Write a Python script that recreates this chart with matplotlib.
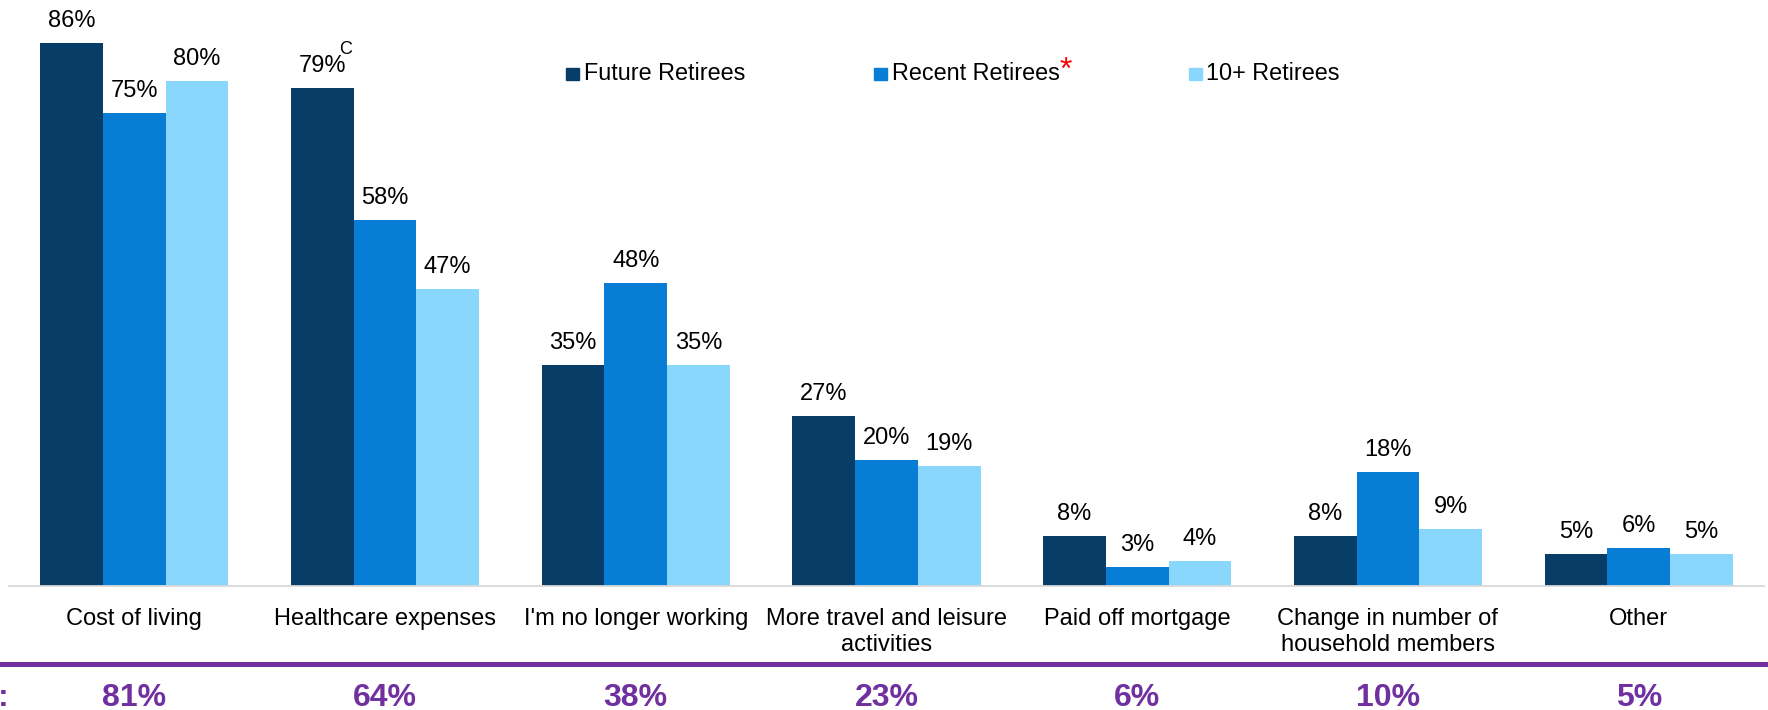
import numpy as np
import matplotlib
matplotlib.use('Agg')
import matplotlib.pyplot as plt
from matplotlib.patches import Rectangle
from matplotlib.lines import Line2D
import matplotlib.transforms as mtransforms

plt.rcParams['font.family'] = ['Liberation Sans', 'DejaVu Sans']

categories = ['Cost of living', 'Healthcare expenses', "I'm no longer working",
              'More travel and leisure\nactivities', 'Paid off mortgage',
              'Change in number of\nhousehold members', 'Other']
series_names = ['Future Retirees', 'Recent Retirees', '10+ Retirees']
future = [86, 79, 35, 27, 8, 8, 5]
recent = [75, 58, 48, 20, 3, 18, 6]
ten_plus = [80, 47, 35, 19, 4, 9, 5]
totals = [81, 64, 38, 23, 6, 10, 5]

colors = ['#083D67', '#077DD5', '#8AD7FE']
purple = '#7030A0'

W, H = 1768, 710
fig = plt.figure(figsize=(W / 100, H / 100), dpi=100)
ax = fig.add_axes([9 / W, 124 / H, 1755 / W, 92 * 6.31 / H])

x = np.arange(len(categories))
bw = 0.25
for i, (vals, c) in enumerate(zip([future, recent, ten_plus], colors)):
    pos = x + (i - 1) * bw
    ax.bar(pos, vals, width=bw, color=c, edgecolor='none')
    for px, v in zip(pos, vals):
        ax.annotate('%d%%' % v, (px, v), xytext=(0, 11.5), textcoords='offset points',
                    ha='center', va='baseline', fontsize=17, color='black')

# superscript marker on Healthcare / Future
ax.annotate('C', (x[1] - bw, future[1]), xytext=(12, 33.5), textcoords='offset points',
            ha='left', va='top', fontsize=13, color='black')

ax.set_xlim(-0.5, len(categories) - 0.5)
ax.set_ylim(0, 92)
ax.set_yticks([])
ax.set_xticks(x)
ax.set_xticklabels(categories, fontsize=17, linespacing=1.28)
ax.tick_params(axis='x', length=0, pad=15.5)
for s in ['top', 'right', 'left']:
    ax.spines[s].set_visible(False)
ax.spines['bottom'].set_color('#D9D9D9')
ax.spines['bottom'].set_linewidth(1.3)

# legend drawn by hand
leg_x = [566, 874, 1189]
for name, c, lx in zip(series_names, colors, leg_x):
    fig.patches.append(Rectangle((lx / W, (H - 80) / H), 13 / W, 12.3 / H,
                                 transform=fig.transFigure, color=c))
    fig.text((lx + 17.5) / W, (H - 80) / H, name, fontsize=16.8,
             ha='left', va='baseline', color='black')
fig.text(1060 / W, (H - 56) / H, '*', fontsize=23, color='red', ha='left', va='top')

# purple totals row
fig.add_artist(Line2D([0, 1], [(H - 663.5) / H] * 2, transform=fig.transFigure,
                      color=purple, lw=3.6))
trans = mtransforms.blended_transform_factory(ax.transData, fig.transFigure)
for px, v in zip(x, totals):
    ax.text(px, 4 / H, '%d%%' % v, transform=trans, ha='center', va='baseline',
            fontsize=23, fontweight='bold', color=purple, clip_on=False)
fig.text(-2 / W, 4 / H, ':', ha='left', va='baseline', fontsize=23,
         fontweight='bold', color=purple)

fig.savefig('out.png', dpi=100)
